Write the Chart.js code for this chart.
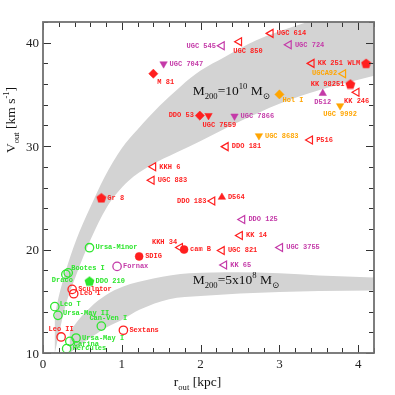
<!DOCTYPE html>
<html>
<head>
<meta charset="utf-8">
<script src="https://cdn.jsdelivr.net/npm/chart.js@4.4.1/dist/chart.umd.min.js"></script>
<style>
  html, body { margin: 0; padding: 0; background: #fff; }
</style>
</head>
<body>
<canvas id="chart" width="395" height="395"></canvas>
<script>
// galaxies: name, r_out [kpc], V_out [km/s], marker, colour, label side
const names = ['M 81', 'UGC 7047', 'UGC 545', 'UGC 850', 'UGC 614', 'UGC 724', 'KK 251', 'WLM', 'UGCA92', 'KK 98251',
  'KK 246', 'D512', 'Hol I', 'UGC 9992', 'DDO 53', 'UGC 7559', 'UGC 7866', 'UGC 8683', 'P516', 'DDO 181',
  'KKH 6', 'UGC 883', 'Gr 8', 'DDO 183', 'D564', 'DDO 125', 'KK 14', 'UGC 3755', 'UGC 821', 'KK 65',
  'cam B', 'KKH 34', 'SDIG', 'Fornax', 'Ursa-Minor', 'DDO 210', 'Bootes I', 'Draco', 'Sculptor', 'Leo I',
  'Leo T', 'Ursa-May II', 'Can-Ven I', 'Sextans', 'Leo II', 'Ursa-May I', 'Carina', 'Hercules']
const rOut = [1.40, 1.53, 2.27, 2.49, 2.89, 3.12, 3.41, 4.10, 3.81, 3.90,
  3.98, 3.55, 3.00, 3.77, 1.99, 2.10, 2.43, 2.74, 3.39, 2.32,
  1.40, 1.38, 0.74, 2.15, 2.27, 2.53, 2.50, 3.01, 2.27, 2.30,
  1.79, 1.74, 1.22, 0.94, 0.59, 0.59, 0.32, 0.29, 0.37, 0.39,
  0.15, 0.19, 0.74, 1.02, 0.23, 0.42, 0.34, 0.30]
const vOut = [37.0, 37.95, 39.7, 40.1, 40.9, 39.8, 38.0, 38.0, 37.0, 36.0,
  35.2, 35.1, 35.0, 33.9, 32.95, 32.95, 32.9, 31.0, 30.6, 29.95,
  28.0, 26.7, 25.0, 24.7, 25.06, 22.9, 21.36, 20.2, 19.9, 18.5,
  20.0, 20.2, 19.34, 18.37, 20.18, 16.95, 17.75, 17.6, 16.15, 15.73,
  14.48, 13.64, 12.6, 12.2, 11.55, 11.45, 11.13, 10.42]
const marker = ['dia', 'dtri', 'tri', 'tri', 'tri', 'tri', 'tri', 'pent', 'tri', 'pent',
  'tri', 'utri', 'dia', 'dtri', 'dia', 'dtri', 'dtri', 'dtri', 'tri', 'tri',
  'tri', 'tri', 'pent', 'tri', 'utri', 'tri', 'tri', 'tri', 'tri', 'tri',
  'fcirc', 'tri', 'fcirc', 'ocirc', 'ocirc', 'pent', 'ocirc', 'ocirc', 'ocirc', 'ocirc',
  'ocirc', 'ocirc', 'ocirc', 'ocirc', 'ocirc', 'ocirc', 'ocirc', 'ocirc']
const colorKey = ['r', 'm', 'm', 'r', 'r', 'm', 'r', 'r', 'o', 'r',
  'r', 'm', 'o', 'o', 'r', 'r', 'm', 'o', 'r', 'r',
  'r', 'r', 'r', 'r', 'r', 'm', 'r', 'm', 'r', 'm',
  'r', 'r', 'r', 'm', 'g', 'g', 'g', 'g', 'r', 'r',
  'g', 'g', 'g', 'r', 'r', 'g', 'g', 'g']
const labelSide = ['br', 'r', 'l', 'bm', 'r', 'r', 'r', 'l', 'l', 'l',
  'b', 'b', 'bR', 'b', 'l', 'bm', 'r', 'r', 'r', 'r',
  'r', 'r', 'r', 'l', 'r', 'r', 'r', 'r', 'r', 'r',
  'r', 'al', 'r', 'r', 'r', 'r', 'ar', 'bl', 'r', 'r',
  'ru', 'ru', 'aR', 'r', 'a', 'r', 'rd', 'r']

// grey bands (edges)
const bigUpperR = [0.07, 0.17, 0.28, 0.42, 0.6, 0.78, 1.0, 1.2, 1.48, 1.75, 2.0, 2.3, 2.7, 3.0, 3.4, 3.8, 4.2]
const bigUpperV = [10, 14.4, 17.7, 20.9, 24.1, 27.0, 29.8, 31.6, 33.9, 35.8, 37.3, 38.6, 40.2, 41.1, 42.1, 43.0, 43.8]
const bigLowerR = [0.15, 0.28, 0.43, 0.6, 0.81, 1.08, 1.36, 1.7, 2.0, 2.5, 3.0, 3.5, 4.2]
const bigLowerV = [10, 14.4, 17.7, 20.9, 24.1, 26.6, 28.1, 29.4, 30.5, 32.4, 34.1, 35.4, 36.8]
const smallUpperR = [0.19, 0.38, 0.6, 0.8, 1.01, 1.4, 1.86, 2.46, 3.0, 3.5, 4.2]
const smallUpperV = [10, 12.5, 14.4, 15.6, 16.4, 17.2, 17.7, 17.8, 17.7, 17.5, 17.3]
const smallLowerR = [0.34, 0.55, 0.81, 1.0, 1.23, 1.6, 2.0, 2.5, 3.0, 3.5, 4.2]
const smallLowerV = [10, 11.2, 12.5, 13.2, 14.2, 15.2, 15.5, 15.75, 15.9, 16.0, 16.05]

const xTickLabels = [0, 1, 2, 3, 4]
const yTickLabels = [10, 20, 30, 40]

const palette = { r: '#ff1f1f', m: '#c43aa8', o: '#ffa500', g: '#2ee62e' }
const SERIF = '"Liberation Serif", "DejaVu Serif", serif'
const MONO = '"Liberation Mono", "DejaVu Sans Mono", monospace'

const place = {
  r: [6, 0, 'left'], l: [-6, 0, 'right'], b: [0, 8.5, 'center'],
  br: [4, 9, 'left'], bR: [3, 5.5, 'left'], bm: [-6, 9.5, 'left'],
  a: [0, -7.5, 'center'], aR: [7, -7.5, 'center'], al: [-3, -5, 'right'],
  ar: [3, -5, 'left'], bl: [7, 6, 'right'], ru: [5, -2.5, 'left'], rd: [4, 3, 'left']
}

const pentagon = (color) => {
  const c = document.createElement('canvas')
  c.width = 11
  c.height = 11
  const g = c.getContext('2d')
  g.fillStyle = color
  g.beginPath()
  for (let i = 0; i < 5; i++) {
    const a = -Math.PI / 2 + i * 2 * Math.PI / 5
    const px = 5.5 + 5.2 * Math.cos(a)
    const py = 6 + 5.2 * Math.sin(a)
    if (i === 0) g.moveTo(px, py)
    else g.lineTo(px, py)
  }
  g.closePath()
  g.fill()
  return c
}

const styleOf = (m, col) => {
  switch (m) {
    case 'tri': return { style: 'triangle', rot: -90, r: 4.6, bg: 'rgba(0,0,0,0)', bw: 1.2 }
    case 'dtri': return { style: 'triangle', rot: 180, r: 4.3, bg: col, bw: 0.5 }
    case 'utri': return { style: 'triangle', rot: 0, r: 4.3, bg: col, bw: 0.5 }
    case 'dia': return { style: 'rectRot', rot: 0, r: 4.6, bg: col, bw: 0.5 }
    case 'pent': return { style: pentagon(col), rot: 0, r: 5, bg: col, bw: 0 }
    case 'fcirc': return { style: 'circle', rot: 0, r: 4, bg: col, bw: 0.5 }
    default: return { style: 'circle', rot: 0, r: 4.2, bg: 'rgba(0,0,0,0)', bw: 1.3 }
  }
}

const pointColors = colorKey.map(k => palette[k])
const pointStyles = marker.map((m, i) => styleOf(m, pointColors[i]))

const toXY = (rs, vs) => rs.map((r, i) => ({ x: r, y: vs[i] }))

const bandEdge = (rs, vs, fill) => ({
  type: 'line',
  data: toXY(rs, vs),
  borderWidth: 0,
  borderColor: 'rgba(0,0,0,0)',
  backgroundColor: '#d3d3d3',
  pointRadius: 0,
  cubicInterpolationMode: 'monotone',
  fill: fill,
  order: 2
})

// text with sub/superscripts: parts = [[text, kind], ...]
const drawRich = (ctx, parts, x, y, size, align) => {
  const small = size * 0.64
  ctx.textAlign = 'left'
  ctx.textBaseline = 'alphabetic'
  const widths = parts.map(([t, k]) => {
    ctx.font = `${k ? small : size}px ${SERIF}`
    return ctx.measureText(t).width
  })
  const total = widths.reduce((s, w) => s + w, 0)
  let cx = align === 'center' ? x - total / 2 : x
  parts.forEach(([t, k], i) => {
    ctx.font = `${k ? small : size}px ${SERIF}`
    const dy = k === 'sub' ? size * 0.3 : (k === 'sup' ? -size * 0.42 : 0)
    ctx.fillText(t, cx, y + dy)
    cx += widths[i]
  })
}

const framePlugin = {
  id: 'framePlugin',
  afterDatasetsDraw(chart) {
    const { ctx, chartArea: a, scales: { x, y } } = chart
    ctx.save()

    // band labels
    ctx.fillStyle = '#111'
    drawRich(ctx, [['M', ''], ['200', 'sub'], ['=10', ''], ['10', 'sup'], [' M', ''], ['\u2299', 'sub']],
      x.getPixelForValue(1.90), y.getPixelForValue(34.98), 13.5, 'left')
    drawRich(ctx, [['M', ''], ['200', 'sub'], ['=5x10', ''], ['8', 'sup'], [' M', ''], ['\u2299', 'sub']],
      x.getPixelForValue(1.90), y.getPixelForValue(16.7), 13.5, 'left')

    // point labels
    ctx.font = `bold 7px ${MONO}`
    ctx.textBaseline = 'middle'
    names.forEach((n, i) => {
      const [dx, dy, al] = place[labelSide[i]]
      ctx.fillStyle = pointColors[i]
      ctx.textAlign = al
      ctx.fillText(n, x.getPixelForValue(rOut[i]) + dx, y.getPixelForValue(vOut[i]) + dy)
    })

    // inward ticks on all four sides
    ctx.strokeStyle = '#333'
    ctx.lineWidth = 1
    ctx.beginPath()
    for (let i = 0; i <= 21; i++) {
      const v = i * 0.2
      const px = Math.round(x.getPixelForValue(v)) + 0.5
      const len = Math.abs(v - Math.round(v)) < 1e-6 ? 8 : 5
      ctx.moveTo(px, a.bottom); ctx.lineTo(px, a.bottom - len)
      ctx.moveTo(px, a.top); ctx.lineTo(px, a.top + len)
    }
    for (let v = 10; v <= 42; v += 2) {
      const py = Math.round(y.getPixelForValue(v)) + 0.5
      const len = v % 10 === 0 ? 8 : 5
      ctx.moveTo(a.left, py); ctx.lineTo(a.left + len, py)
      ctx.moveTo(a.right, py); ctx.lineTo(a.right - len, py)
    }
    ctx.stroke()

    ctx.strokeStyle = '#707070'
    ctx.lineWidth = 1.8
    ctx.strokeRect(a.left, a.top, a.right - a.left, a.bottom - a.top)

    // tick labels
    ctx.fillStyle = '#222'
    ctx.font = `13px ${SERIF}`
    ctx.textBaseline = 'alphabetic'
    ctx.textAlign = 'center'
    xTickLabels.forEach(v => ctx.fillText(String(v), x.getPixelForValue(v), a.bottom + 14.5))
    ctx.textAlign = 'right'
    yTickLabels.forEach(v => ctx.fillText(String(v), a.left - 4, y.getPixelForValue(v) + 4.5))

    // axis titles
    ctx.fillStyle = '#111'
    drawRich(ctx, [['r', ''], ['out', 'sub'], [' [kpc]', '']], 197.5, 386, 13.5, 'center')
    ctx.translate(15, 120)
    ctx.rotate(-Math.PI / 2)
    drawRich(ctx, [['V', ''], ['out', 'sub'], [' [km s', ''], ['-1', 'sup'], [']', '']], 0, 0, 13.5, 'center')

    ctx.restore()
  }
}

new Chart(document.getElementById('chart'), {
  type: 'scatter',
  data: {
    datasets: [
      bandEdge(bigLowerR, bigLowerV, false),
      bandEdge(bigUpperR, bigUpperV, '-1'),
      bandEdge(smallLowerR, smallLowerV, false),
      bandEdge(smallUpperR, smallUpperV, '-1'),
      {
        type: 'scatter',
        data: toXY(rOut, vOut),
        order: 0,
        clip: false,
        pointStyle: pointStyles.map(s => s.style),
        pointRotation: pointStyles.map(s => s.rot),
        pointRadius: pointStyles.map(s => s.r),
        pointBackgroundColor: pointStyles.map(s => s.bg),
        pointBorderColor: pointColors,
        pointBorderWidth: pointStyles.map(s => s.bw)
      }
    ]
  },
  options: {
    responsive: false,
    animation: false,
    events: [],
    layout: { padding: { left: 43, right: 21, top: 22, bottom: 42 } },
    plugins: {
      legend: { display: false },
      tooltip: { enabled: false }
    },
    scales: {
      x: { type: 'linear', min: 0, max: 4.2, display: false },
      y: { type: 'linear', min: 10, max: 42, display: false }
    }
  },
  plugins: [framePlugin]
})
</script>
</body>
</html>
